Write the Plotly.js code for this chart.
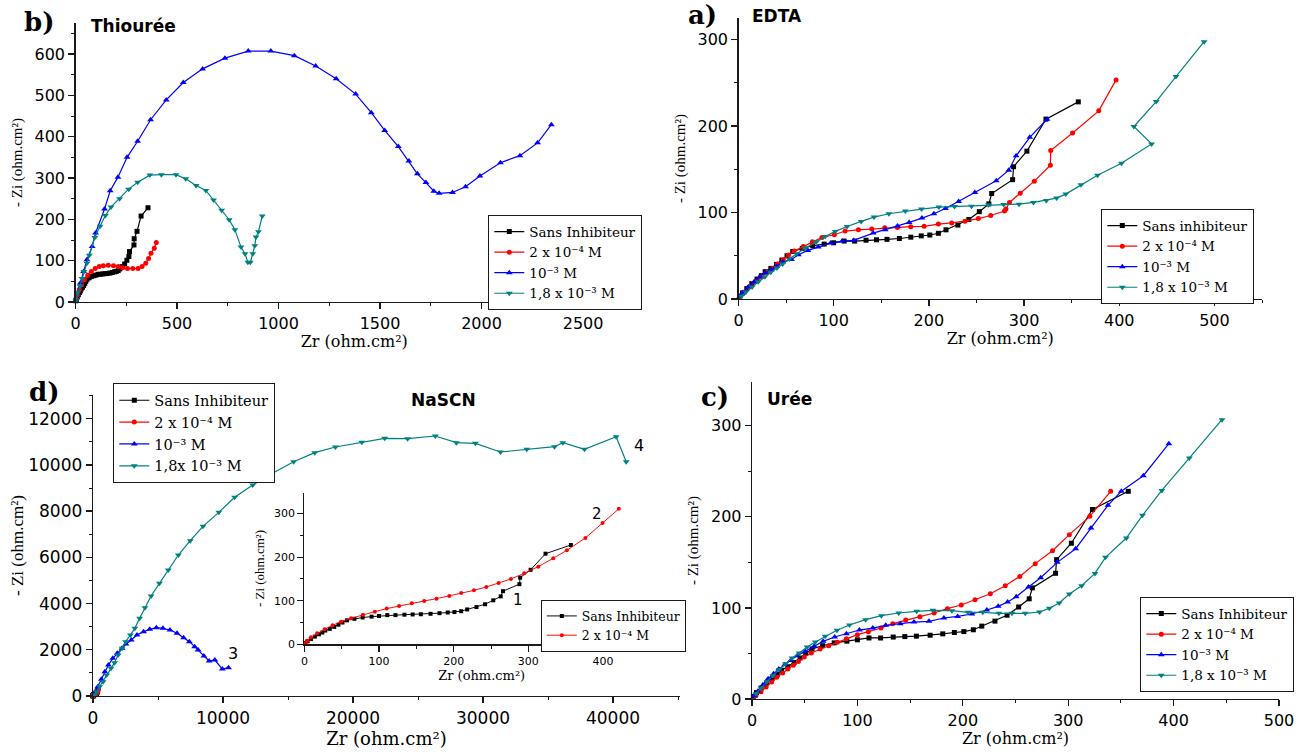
<!DOCTYPE html>
<html>
<head>
<meta charset="utf-8">
<script src="https://cdn.plot.ly/plotly-3.0.1.min.js"></script>
<style>
  html, body { margin: 0; padding: 0; background: #fff; }
  #plot { width: 1307px; height: 755px; }
</style>
</head>
<body>
<div id="plot"></div>
<script>
// ---- Nyquist data, Zr / -Zi in ohm.cm² ----

// Blank solution (sans inhibiteur), shared by every panel
const blankZr = [1.3, 4.3, 8.7, 14, 19.5, 24, 28, 34, 40, 45.6, 51, 57, 67, 78, 90, 100, 111, 122, 134, 145, 156, 169, 181, 192, 201, 210, 218, 230.5, 242, 253, 263, 266, 288, 289, 303, 323, 357];
const blankZi = [3, 7, 12, 17.7, 23, 27, 31.6, 35.4, 40, 45, 50, 55, 58.5, 61.6, 63.5, 65, 67, 67, 68, 68.5, 69, 70, 71.5, 73, 74, 76, 80, 85.5, 92, 101, 110, 122, 138, 153, 171, 208, 228];

// Thiourée
const thio2e4Zr = [4, 10, 18, 30, 44, 60, 78, 97, 117, 137, 161, 187, 211, 231, 256, 282, 308, 328, 346, 360, 372, 388, 398];
const thio2e4Zi = [7, 18, 30, 42, 54, 65, 74, 81, 86, 88, 89, 88, 86, 83, 81, 81, 81, 86, 94, 105, 118, 130, 144];
const thio1e3Zr = [2, 10, 24, 40, 56, 82, 99, 143, 171, 209, 254, 306, 370, 447, 531, 626, 736, 851, 962, 1078, 1183, 1284, 1380, 1457, 1523, 1590, 1642, 1684, 1726, 1765, 1791, 1857, 1921, 1992, 2093, 2189, 2276, 2344];
const thio1e3Zi = [3, 22, 46, 74, 102, 134, 167, 225, 269, 302, 350, 389, 441, 489, 531, 564, 590, 607, 607, 596, 571, 540, 503, 458, 415, 376, 341, 310, 289, 268, 263, 265, 279, 305, 337, 354, 385, 429];
const thio18e3Zr = [2, 10, 22, 32, 42, 56, 68, 95, 121, 147, 175, 217, 262, 306, 366, 423, 495, 543, 594, 642, 680, 720, 757, 785, 815, 835, 849, 861, 873, 883, 889, 901, 920];
const thio18e3Zi = [3, 22, 39, 57, 74, 94, 113, 156, 183, 209, 230, 250, 273, 290, 307, 308, 308, 298, 282, 270, 247, 222, 199, 175, 133, 117, 96, 96, 117, 136, 157, 170, 208];

// EDTA
const edta2e4Zr = [1.7, 5.2, 10.9, 17.4, 24, 30, 35.6, 41, 47, 52.5, 58.6, 68, 77.7, 87.7, 100.7, 112, 126, 140, 153.6, 167, 181, 195, 210, 224, 238, 252, 265, 279.5, 281, 284.7, 296, 310.8, 327.7, 328, 351, 378.5, 396.7];
const edta2e4Zi = [3, 7.7, 13.9, 20, 25.4, 30.8, 35.4, 40.4, 45.4, 50.8, 55.4, 60.8, 66.2, 71.2, 74.3, 78.6, 80, 80.9, 82.4, 82.8, 83.6, 84, 86.6, 88, 90, 93, 96.6, 101.7, 104, 111.7, 122.4, 136.3, 154.8, 171.7, 192, 217.6, 253.4];
const edta1e3Zr = [1.3, 4.3, 10.4, 16.5, 22.1, 28.2, 34.7, 40, 46.4, 55.6, 62.9, 72.9, 83.8, 96.8, 109, 121, 141.5, 154.1, 167.1, 179.3, 192.7, 205.3, 217.4, 231.3, 248.3, 270.8, 283.9, 291.7, 306, 324.2];
const edta1e3Zi = [3.1, 7.3, 13.9, 20, 25.4, 30, 33.9, 37.7, 42.7, 45.8, 51.2, 56.2, 60, 64.7, 67, 67.8, 76.2, 80.1, 84.3, 88.6, 93.6, 98.6, 104.7, 112.8, 123.2, 136.7, 149, 165.6, 187, 207.9];
const edta18e3Zr = [3, 7.8, 14.3, 20.8, 27.8, 33.9, 40.4, 46.4, 53.4, 61.2, 70.3, 81.6, 91.1, 101.6, 114.1, 128.9, 142.4, 158, 175.3, 192.3, 210.5, 227, 244.8, 262.6, 278.6, 294.7, 309.9, 323.4, 334.2, 343.8, 359.8, 377.2, 402.3, 434, 415.4, 438.8, 459.6, 489.2];
const edta18e3Zi = [3.1, 8.1, 13.9, 20, 25.8, 30.8, 35.8, 40.4, 46.2, 52.4, 58.9, 65.8, 72.4, 78.2, 83.9, 89.7, 94.7, 98.6, 101.7, 104, 106.3, 107, 107.4, 109, 109.4, 109.7, 111.7, 114, 116.7, 121.3, 132.1, 143.2, 157.1, 179.4, 199.5, 228.3, 257.2, 297.6];

// Urée
const uree2e4Zr = [3.7, 8.6, 13.4, 18.7, 23.5, 29.1, 34, 39.2, 44, 49.6, 56.3, 64.6, 72.8, 81, 89.6, 100, 110.4, 122.4, 133.6, 145.9, 159.3, 172.8, 185.4, 198.5, 211.6, 226.1, 240.3, 254.1, 268.7, 285.1, 301.1, 320.5, 340.3];
const uree2e4Zi = [3.7, 8, 13.2, 18.7, 23.8, 28.5, 32.9, 37, 41.3, 46.1, 50.5, 54.9, 58.5, 62.2, 66.2, 70.6, 73.9, 77.9, 82.7, 86.7, 90.4, 94.4, 99.2, 103.2, 109, 115.6, 124.4, 134.6, 148.6, 162.8, 180.4, 200.5, 228];
const uree1e3Zr = [2.2, 5.6, 10.4, 15.3, 20.5, 25.4, 31, 36.6, 42.9, 50.4, 59, 67.5, 78.4, 89.6, 101.9, 114.6, 126.9, 140.7, 153.7, 167.9, 182.1, 195.1, 208.6, 222.8, 233.6, 242.5, 250.7, 262.3, 273.9, 289.6, 307.1, 321.6, 337.7, 350.4, 371.3, 395.5];
const uree1e3Zi = [3.7, 8.4, 15.7, 22.3, 27.8, 32.9, 37.7, 42.4, 47.6, 52.3, 57.8, 63.3, 68.1, 71.7, 75.7, 77.9, 80.9, 82.7, 84.5, 85.3, 88.9, 90.7, 93.3, 97.7, 101.7, 106.5, 112.3, 122.9, 133.2, 150, 165, 187.7, 212.6, 228, 245.1, 280.3];
const uree18e3Zr = [3.7, 8.6, 14.2, 19.8, 25.7, 31.7, 38, 44.8, 52.2, 60.1, 69.4, 80.6, 92.5, 107.8, 122.8, 139.2, 156.3, 171.6, 189.6, 204.9, 219, 234.3, 246.6, 259.3, 272.8, 282.1, 291.4, 301.1, 312.7, 325.4, 335.4, 355.2, 370.5, 388.8, 414.9, 445.9];
const uree18e3Zi = [5.9, 12.1, 19, 25.6, 32.2, 38.8, 45, 50.5, 57.1, 62.6, 68.8, 75.4, 81.2, 87.1, 91.5, 94.4, 96.2, 97.3, 97, 95.1, 95.1, 94, 94, 94, 95.5, 99.5, 105.4, 115.3, 124.4, 137.9, 155.5, 176.7, 201.6, 229, 264.5, 306.6];

// NaSCN
const nascn2e4Zr = [1.2, 3.5, 8.8, 17.1, 27.1, 37.8, 49, 62.5, 78.5, 94.4, 110.3, 126.8, 143.9, 160.5, 177, 194.1, 210, 227.1, 243.7, 260.2, 276.7, 294.4, 313.3, 333.3, 351.6, 376.4, 399.4, 421.2];
const nascn2e4Zi = [2.3, 8.4, 16.1, 25.2, 34.4, 43.6, 52, 59.7, 68.1, 75, 81.9, 88, 94.1, 99.5, 104.8, 110.9, 117.8, 123.9, 131.6, 140.8, 150, 163, 178.3, 197.4, 215.8, 244.1, 278.5, 311];
const nascn1e3Zr = [135, 372, 643, 914, 1184, 1523, 1861, 2234, 2538, 2944, 3384, 3892, 4365, 4873, 5381, 5922, 6464, 6971, 7411, 7817, 8088, 8528, 8934, 9374, 9949, 10423];
const nascn1e3Zi = [144, 404, 721, 1053, 1341, 1630, 1846, 2063, 2250, 2423, 2640, 2784, 2885, 2957, 2928, 2856, 2712, 2524, 2351, 2135, 1990, 1731, 1514, 1558, 1168, 1226];
const nascn18e3Zr = [102, 271, 508, 778, 1049, 1387, 1658, 1929, 2234, 2504, 2876, 3215, 3587, 3993, 4467, 5110, 5787, 6565, 7479, 8460, 9679, 10897, 12284, 13739, 15431, 17056, 18646, 20677, 22437, 24196, 26328, 27953, 29408, 31337, 33367, 35500, 36142, 37800, 40237, 41015];
const nascn18e3Zi = [43, 188, 404, 620, 909, 1197, 1442, 1774, 2063, 2351, 2640, 2928, 3361, 3822, 4327, 4875, 5452, 6101, 6721, 7342, 7948, 8597, 9130, 9621, 10140, 10529, 10775, 10977, 11150, 11135, 11251, 10962, 10933, 10558, 10674, 10789, 10962, 10674, 11222, 10140];

// Legend labels
const lblBlank = 'Sans Inhibiteur';
const lblBlankLower = 'Sans inhibiteur';
const lbl2e4 = '2 x 10⁻⁴ M';
const lbl1e3 = '10⁻³ M';
const lbl18e3 = '1,8 x 10⁻³ M';
const lbl18e3Tight = '1,8x 10⁻³ M';

// ---- styling ----
const SANS = 'DejaVu Sans, Liberation Sans, Arial, sans-serif';
const SANS_BOLD = 'DejaVu Sans, Arial, sans-serif';
const SERIF_WIDE = 'DejaVu Serif, Liberation Serif, serif';
const SERIF = 'Liberation Serif, Times New Roman, serif';
const W = 1307, H = 755;
const INK = '#1a1a1a';

const STYLE = {
  blank: { color: '#000000', symbol: 'square', size: 5 },
  c2e4:  { color: '#ff0000', symbol: 'circle', size: 5 },
  c1e3:  { color: '#0000ff', symbol: 'triangle-up', size: 6 },
  c18e3: { color: '#008080', symbol: 'triangle-down', size: 6 }
};

function series(x, y, kind, axId, legendId, name, scale) {
  const s = STYLE[kind];
  const k = scale || 1;
  return {
    type: 'scatter', mode: 'lines+markers', x: x, y: y, name: name,
    xaxis: 'x' + axId, yaxis: 'y' + axId, legend: legendId,
    line: { color: s.color, width: 1.2 * k },
    marker: { color: s.color, symbol: s.symbol, size: s.size * k, line: { width: 0 } },
    cliponaxis: false
  };
}

// pixel box -> paper domain
function xdom(l, r) { return [l / W, r / W]; }
function ydom(b, t) { return [1 - b / H, 1 - t / H]; }

function axis(domain, range, dtick, minor, fsize, anchor, title, tfont, tsize, standoff) {
  return {
    domain: domain, range: range, anchor: anchor, dtick: dtick, tick0: 0,
    tickformat: 'd',
    showline: true, linecolor: INK, linewidth: 1.3, mirror: false,
    ticks: 'outside', ticklen: 6, tickwidth: 1.3, tickcolor: INK,
    minor: { ticks: 'outside', ticklen: 3, tickwidth: 1, tickcolor: INK, dtick: minor, tick0: 0, showgrid: false },
    showgrid: false, zeroline: false, fixedrange: true,
    tickfont: { family: SANS, size: fsize, color: '#000' },
    title: { text: title, font: { family: tfont, size: tsize, color: '#000' }, standoff: standoff }
  };
}

const zrTitle = 'Zr (ohm.cm²)';
const ziTitle = '- Zi (ohm.cm²)';

const traces = [
  // b) Thiourée
  series(blankZr, blankZi, 'blank', '', 'legend', lblBlank),
  series(thio2e4Zr, thio2e4Zi, 'c2e4', '', 'legend', lbl2e4),
  series(thio1e3Zr, thio1e3Zi, 'c1e3', '', 'legend', lbl1e3),
  series(thio18e3Zr, thio18e3Zi, 'c18e3', '', 'legend', lbl18e3),
  // a) EDTA
  series(blankZr, blankZi, 'blank', '2', 'legend2', lblBlankLower),
  series(edta2e4Zr, edta2e4Zi, 'c2e4', '2', 'legend2', lbl2e4),
  series(edta1e3Zr, edta1e3Zi, 'c1e3', '2', 'legend2', lbl1e3),
  series(edta18e3Zr, edta18e3Zi, 'c18e3', '2', 'legend2', lbl18e3),
  // d) NaSCN
  series(blankZr, blankZi, 'blank', '3', 'legend3', lblBlank),
  series(nascn2e4Zr, nascn2e4Zi, 'c2e4', '3', 'legend3', lbl2e4),
  series(nascn1e3Zr, nascn1e3Zi, 'c1e3', '3', 'legend3', lbl1e3),
  series(nascn18e3Zr, nascn18e3Zi, 'c18e3', '3', 'legend3', lbl18e3Tight),
  // c) Urée
  series(blankZr, blankZi, 'blank', '4', 'legend4', lblBlank),
  series(uree2e4Zr, uree2e4Zi, 'c2e4', '4', 'legend4', lbl2e4),
  series(uree1e3Zr, uree1e3Zi, 'c1e3', '4', 'legend4', lbl1e3),
  series(uree18e3Zr, uree18e3Zi, 'c18e3', '4', 'legend4', lbl18e3),
  // d) inset, low-impedance zoom
  series(blankZr, blankZi, 'blank', '5', 'legend5', lblBlank, 0.8),
  series(nascn2e4Zr, nascn2e4Zi, 'c2e4', '5', 'legend5', lbl2e4, 0.8)
];

function legendBox(xpx, ypx, fsize) {
  return {
    x: xpx / W, y: 1 - ypx / H, xanchor: 'left', yanchor: 'top',
    bgcolor: '#fff', bordercolor: INK, borderwidth: 1.3,
    font: { family: SERIF_WIDE, size: fsize, color: '#000' },
    traceorder: 'normal', itemclick: false, itemdoubleclick: false
  };
}

function label(text, xpx, ypx, font, size, bold) {
  return {
    xref: 'paper', yref: 'paper', x: xpx / W, y: 1 - ypx / H,
    xanchor: 'left', yanchor: 'middle', showarrow: false,
    text: bold ? '<b>' + text + '</b>' : text,
    font: { family: font, size: size, color: '#000' }
  };
}

const layout = {
  width: W, height: H,
  margin: { l: 0, r: 0, t: 0, b: 0 },
  paper_bgcolor: '#fff', plot_bgcolor: 'rgba(0,0,0,0)',
  showlegend: true,
  // b) Thiourée
  xaxis:  axis(xdom(75.5, 633), [0, 2746], 500, 250, 16, 'y', zrTitle, SERIF_WIDE, 16, 4),
  yaxis:  axis(ydom(302, 23), [0, 675], 100, 50, 16, 'x', ziTitle, SERIF, 15, 8),
  // a) EDTA
  xaxis2: axis(xdom(738.5, 1262), [0, 550], 100, 50, 16, 'y2', zrTitle, SERIF_WIDE, 16, 4),
  yaxis2: axis(ydom(299, 18), [0, 325], 100, 50, 16, 'x2', ziTitle, SERIF, 15, 8),
  // d) NaSCN
  xaxis3: axis(xdom(93, 680), [0, 45150], 10000, 5000, 17, 'y3', zrTitle, SERIF_WIDE, 18, 0),
  yaxis3: axis(ydom(696, 395), [0, 13025], 2000, 1000, 17, 'x3', ziTitle, SERIF, 17, 0),
  // c) Urée
  xaxis4: axis(xdom(752, 1279), [0, 500], 100, 50, 16, 'y4', zrTitle, SERIF_WIDE, 16, 4),
  yaxis4: axis(ydom(699, 382), [0, 348], 100, 50, 16, 'x4', ziTitle, SERIF, 15, 8),
  // inset of d)
  xaxis5: axis(xdom(304.4, 659), [0, 475], 100, 50, 11, 'y5', zrTitle, SERIF_WIDE, 13, 2),
  yaxis5: axis(ydom(644.3, 492.7), [0, 348], 100, 50, 11, 'x5', ziTitle, SERIF, 13, 6),

  legend:  legendBox(488, 215, 13.5),
  legend2: legendBox(1101, 209, 13.5),
  legend3: legendBox(113, 383, 14.5),
  legend4: legendBox(1140, 597, 13.5),
  legend5: legendBox(540.5, 600, 12.5),

  annotations: [
    label('b)', 22, 22, SERIF_WIDE, 26, true),
    label('Thiourée', 89, 26, SANS_BOLD, 17, true),
    label('a)', 686, 15, SERIF_WIDE, 26, true),
    label('EDTA', 750, 16, SANS_BOLD, 17, true),
    label('d)', 27, 392, SERIF_WIDE, 26, true),
    label('NaSCN', 409, 400, SANS_BOLD, 17, true),
    label('c)', 699, 397, SERIF_WIDE, 26, true),
    label('Urée', 765, 399, SANS_BOLD, 17, true),
    label('1', 511, 600, SANS, 15, false),
    label('2', 590, 514, SANS, 15, false),
    label('3', 226, 653, SANS, 16, false),
    label('4', 632, 445, SANS, 16, false)
  ]
};

Plotly.newPlot('plot', traces, layout, { displayModeBar: false, staticPlot: true });
</script>
</body>
</html>
